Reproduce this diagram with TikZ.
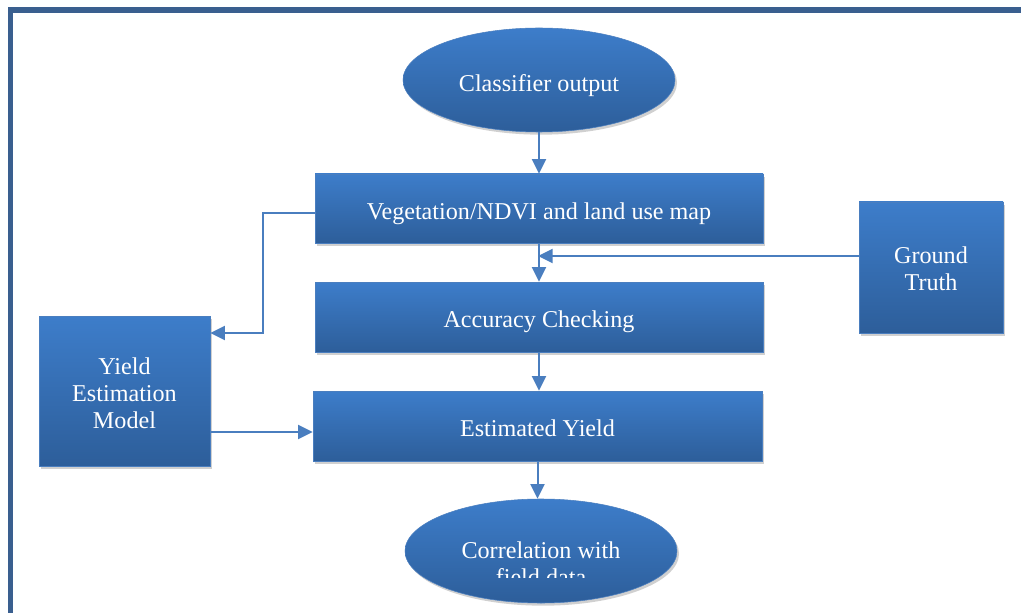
\documentclass[tikz,border=0pt]{standalone}
\usepackage{fontspec}
\setmainfont{Liberation Serif}
\usetikzlibrary{shapes.geometric,shadows,arrows.meta}
\definecolor{topc}{HTML}{3D7DCA}
\definecolor{botc}{HTML}{2D5E9A}
\definecolor{linec}{HTML}{4A7EBF}
\definecolor{framec}{HTML}{3A5F8F}
\newcommand{\lowtxt}[2]{\raisebox{-#1}[\height][\depth]{\begin{tabular}{@{}c@{}}#2\end{tabular}}}
\begin{document}
\begin{tikzpicture}[x=0.75pt,y=-0.75pt,
  shade/.style={top color=topc, bottom color=botc, draw=linec, line width=0.4pt,
    drop shadow={shadow xshift=1.5pt, shadow yshift=-2pt, opacity=0.3, fill=black!60}},
  txt/.style={text=white, font=\fontsize{18.1}{20.6}\selectfont, align=center},
  blk/.style={rectangle, shade, txt, inner sep=0pt},
  ell/.style={ellipse, shade, txt, inner sep=0pt},
  conn/.style={draw=linec, line width=1.5pt, -{Triangle[length=11pt,width=10.5pt]}}]
\clip (0,0) rectangle (1021,613);
\fill[white] (0,0) rectangle (1021,613);
\draw[framec, line width=4pt] (10.5,10) rectangle (1060,660);

\node[ell, minimum width=204pt, minimum height=78pt] (cls) at (539,80) {\lowtxt{4.5pt}{Classifier output}};
\node[blk, minimum width=336pt, minimum height=51.75pt] (veg) at (539,208.5) {\lowtxt{4.5pt}{Vegetation/NDVI and land use map}};
\node[blk, minimum width=336pt, minimum height=52.5pt] (acc) at (539,317) {\lowtxt{3.75pt}{Accuracy Checking}};
\node[blk, minimum width=336.75pt, minimum height=52.5pt] (est) at (537.5,426) {\lowtxt{3.75pt}{Estimated Yield}};
\node[blk, minimum width=128.25pt, minimum height=112.5pt] (ym) at (124.5,391) {\lowtxt{3.75pt}{Yield\\Estimation\\Model}};
\node[blk, minimum width=108pt, minimum height=98.25pt] (gt) at (931,267.5) {\lowtxt{3pt}{Ground\\Truth}};
\node[ell, minimum width=204pt, minimum height=78pt] (corr) at (541,551) {};
\begin{scope}
  \clip (405,490) rectangle (677,577);
  \node[txt] (corrtext) at (541,563.75) {Correlation with\\field data};
\end{scope}

\coordinate (gtjoin) at (538,256);
\draw[conn] (cls.south) -- (veg.north);
\draw[conn] (veg.south) -- (acc.north);
\draw[conn] (acc.south) -- (acc.south |- est.north);
\draw[conn] (est.south) -- (est.south |- corr.north);
\draw[conn] (gtjoin -| gt.west) -- (gtjoin);
\draw[conn] ([yshift=-3.4pt]veg.west) -- ++(-39pt,0) |- ([yshift=43.5pt]ym.east);
\draw[conn] ([yshift=-30.75pt]ym.east) -- ([yshift=-30.75pt]ym.east -| est.west);
\end{tikzpicture}
\end{document}
